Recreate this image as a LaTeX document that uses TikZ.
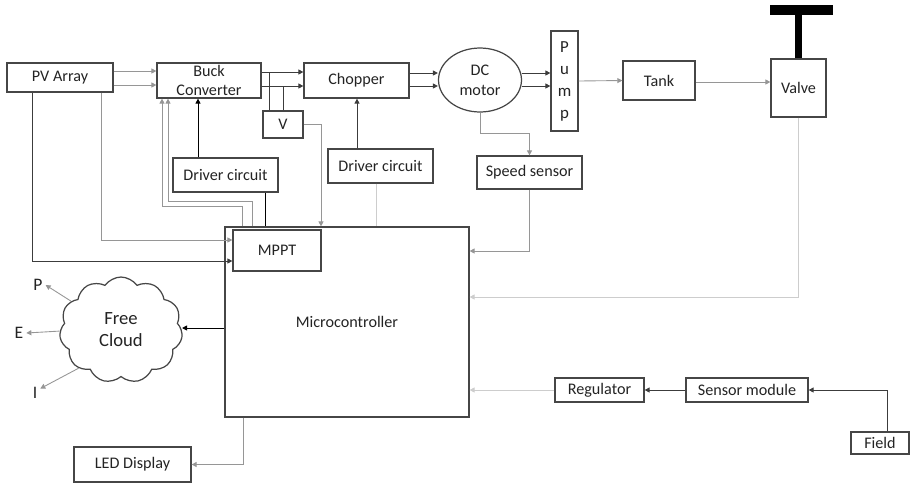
\documentclass[tikz,border=0pt]{standalone}
\usepackage{fontspec}
\setmainfont{Carlito}
\usetikzlibrary{arrows.meta, shapes.geometric, shapes.symbols}
\definecolor{linedark}{RGB}{60,60,60}
\definecolor{linemid}{RGB}{150,150,150}
\definecolor{linepale}{RGB}{205,205,205}
\definecolor{boxline}{RGB}{70,70,70}
\definecolor{txt}{RGB}{35,35,35}

\begin{document}
\begin{tikzpicture}[x=0.02cm, y=-0.02cm, >={Triangle[length=1mm, width=1mm]}, line width=0.5pt,
    font=\fontsize{9.2}{11.3}\selectfont,
    box/.style={draw=boxline, line width=0.7pt, inner sep=0pt, text=txt, align=center},
    lbl/.style={inner sep=1.5pt, text=txt, font=\fontsize{10}{12}\selectfont},
    dark/.style={draw=linedark}, mid/.style={draw=linemid}, pale/.style={draw=linepale}]
  \useasboundingbox (0,0) rectangle (912,484);

  % top row
  \node[box, minimum width=2.12cm, minimum height=0.58cm] (pv) at (60,77.5) {PV Array};
  \node[box, minimum width=2.08cm, minimum height=0.70cm] (buck) at (209,80.5) {Buck\\Converter};
  \node[box, minimum width=2.10cm, minimum height=0.70cm] (chop) at (356.5,80.5) {Chopper};
  \node[box, ellipse, minimum width=1.66cm, minimum height=1.28cm] (motor) at (480,80) {DC\\motor};
  \node[box, minimum width=0.54cm, minimum height=2.00cm, font=\fontsize{9.6}{12.5}\selectfont] (pump) at (564.5,81) {P\\u\\m\\p};
  \node[box, minimum width=1.44cm, minimum height=0.78cm] (tank) at (659,80.5) {Tank};
  \node[box, minimum width=1.10cm, minimum height=1.16cm] (valve) at (798.5,88) {Valve};
  \fill[black] (770,5) rectangle (833,15);
  \draw[line width=0.14cm] (valve.north) -- (798.5,12);

  % middle row
  \node[box, minimum width=0.80cm, minimum height=0.54cm] (v) at (283,124.5) {V};
  \node[box, minimum width=2.10cm, minimum height=0.68cm] (drv1) at (225.5,175) {Driver circuit};
  \node[box, minimum width=2.10cm, minimum height=0.68cm] (drv2) at (380.5,166) {Driver circuit};
  \node[box, minimum width=2.10cm, minimum height=0.66cm] (speed) at (529.5,172.5) {Speed sensor};

  % controller
  \node[box, minimum width=4.88cm, minimum height=3.80cm] (mc) at (347,322) {Microcontroller};
  \node[box, minimum width=1.76cm, minimum height=0.82cm] (mppt) at (277,250.5) {MPPT};

  % bottom
  \node[box, cloud, cloud puffs=11, cloud puff arc=110, aspect=1.16, minimum width=2.46cm, minimum height=2.12cm,
        font=\fontsize{10.6}{12.5}\selectfont] (cloud) at (121,330) {Free\\Cloud};
  \node[lbl] (p) at (38,285) {P};
  \node[lbl] (e) at (19,333) {E};
  \node[lbl] (i) at (35,393) {I};
  \node[box, minimum width=2.34cm, minimum height=0.70cm] (led) at (132.5,464.5) {LED Display};
  \node[box, minimum width=1.78cm, minimum height=0.48cm] (reg) at (599.5,390) {Regulator};
  \node[box, minimum width=2.44cm, minimum height=0.48cm] (sens) at (747,390) {Sensor module};
  \node[box, minimum width=1.16cm, minimum height=0.44cm] (field) at (880,443) {Field};

  % power path
  \draw[mid, ->] (pv.east |- 0,71) -- (buck.west |- 0,71);
  \draw[mid, ->] (pv.east |- 0,85) -- (buck.west |- 0,85);
  \draw[dark, ->] (buck.east |- 0,72) -- (chop.west |- 0,72);
  \draw[dark, ->] (buck.east |- 0,86) -- (chop.west |- 0,86);
  \draw[dark] (v.north -| 269,0) -- (269,72);
  \draw[dark] (v.north -| 283,0) -- (283,86);
  \draw[dark, ->] (chop.east |- 0,73) -- (motor.west |- 0,73);
  \draw[dark, ->] (chop.east |- 0,86) -- (motor.west |- 0,86);
  \draw[dark, ->] (motor.east |- 0,73) -- (pump.west |- 0,73);
  \draw[dark, ->] (motor.east |- 0,86) -- (pump.west |- 0,86);
  \draw[mid, ->] (pump.east) -- (tank.west);
  \draw[mid, ->] (tank.east |- 0,82) -- (valve.west |- 0,82);

  % control lines
  \draw[mid, ->] (v.east) -| (mc.north -| 321,0);
  \draw[black, ->] (drv1.north -| 198,0) -- (buck.south -| 198,0);
  \draw[black] (drv1.south -| 265,0) -- (mc.north -| 265,0);
  \draw[mid, ->] (mc.north -| 242,0) |- (162,206) -- (buck.south -| 162,0);
  \draw[mid, ->] (mc.north -| 252,0) |- (168,201) -- (buck.south -| 168,0);
  \draw[dark, ->] (pv.south -| 32,0) |- (mppt.west |- 0,261);
  \draw[mid, ->] (pv.south -| 101,0) |- (mppt.west |- 0,240);
  \draw[dark, ->] (drv2.north -| 357,0) -- (chop.south -| 357,0);
  \draw[pale] (drv2.south -| 376,0) -- (mc.north -| 376,0);
  \draw[mid, ->] (motor.south) |- (speed.north |- 0,133) -- (speed.north);
  \draw[mid, ->] (speed.south) |- (mc.east |- 0,251);
  \draw[pale, ->] (valve.south) |- (mc.east |- 0,297);

  % outputs and sensing
  \draw[black, ->] (mc.west |- 0,328) -- (cloud.east |- 0,328);
  \draw[mid, ->] (cloud.150) -- (p.east);
  \draw[mid, ->] (cloud.181) -- (e.east);
  \draw[mid, ->] (cloud.222) -- (i.40);
  \draw[mid, ->] (mc.south -| 243,0) |- (led.east);
  \draw[pale, ->] (reg.west) -- (mc.east |- reg.west);
  \draw[dark, ->] (sens.west) -- (reg.east);
  \draw[dark, ->] (field.north -| 887,0) |- (sens.east);
\end{tikzpicture}
\end{document}
